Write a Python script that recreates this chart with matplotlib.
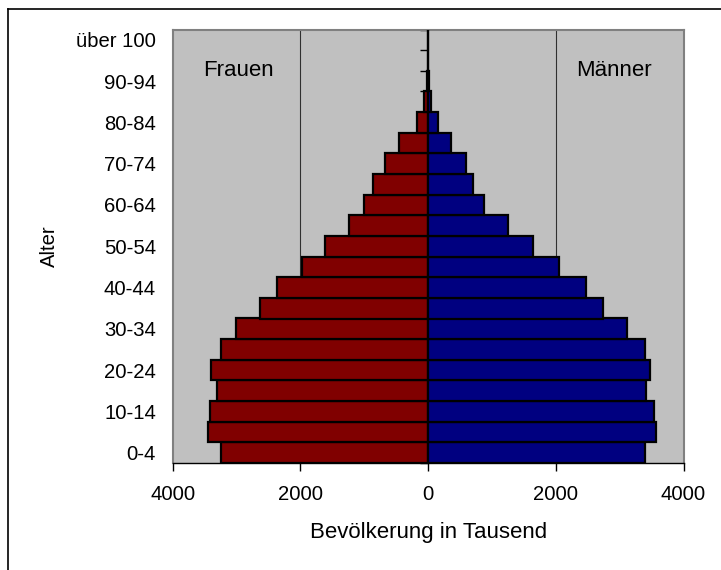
import matplotlib
matplotlib.use("Agg")
import matplotlib.pyplot as plt
from matplotlib.lines import Line2D
from matplotlib.ticker import FuncFormatter
import numpy as np

plt.rcParams['font.family'] = ['Liberation Sans', 'DejaVu Sans']

categories = ["0-4", "5-9", "10-14", "15-19", "20-24", "25-29", "30-34", "35-39",
              "40-44", "45-49", "50-54", "55-59", "60-64", "65-69", "70-74",
              "75-79", "80-84", "85-89", "90-94", "95-99", "über 100"]
frauen = [3250, 3440, 3420, 3305, 3400, 3250, 3012, 2630, 2370, 1977, 1618,
          1243, 1003, 870, 670, 463, 179, 60, 18, 5, 1]
maenner = [3390, 3570, 3535, 3405, 3478, 3395, 3120, 2732, 2472, 2046, 1643,
           1248, 881, 705, 601, 355, 148, 42, 14, 4, 1]
xticks = [-4000, -2000, 0, 2000, 4000]

W, H = 721, 570
fig = plt.figure(figsize=(W / 100, H / 100), dpi=100)
fig.patch.set_facecolor("white")

L, R, T, B = 172.7, 683.5, 29.5, 463.0
ax = fig.add_axes([L / W, 1 - B / H, (R - L) / W, (B - T) / H])
ax.set_facecolor("#C0C0C0")

y = np.arange(len(categories))
ax.barh(y, [-v for v in frauen], height=1.0, color="#800000",
        edgecolor="black", linewidth=1.6, zorder=3)
ax.barh(y, maenner, height=1.0, color="#000080",
        edgecolor="black", linewidth=1.6, zorder=3)

ax.set_xlim(-4000, 4000)
ax.set_ylim(-0.5, len(categories) - 0.5)

# grid
for g in [-2000, 2000]:
    ax.axvline(g, color="#303030", linewidth=0.8, zorder=1)

ax.set_xticks(xticks)
ax.xaxis.set_major_formatter(FuncFormatter(lambda v, p: f"{abs(int(v))}"))
ax.tick_params(axis="x", direction="out", length=6, width=1, color="black",
               labelsize=14.6, pad=10)
ax.set_yticks(y[::2])
ax.set_yticklabels(categories[::2])
ax.tick_params(axis="y", length=0, labelsize=14.6, pad=12)

for s in ["top", "left", "right"]:
    ax.spines[s].set_color("#808080")
    ax.spines[s].set_linewidth(1.5)
ax.spines["bottom"].set_color("black")
ax.spines["bottom"].set_linewidth(1.0)

# vertical axis at x=0 with ticks at category boundaries
sec = ax.secondary_yaxis(0.5)
sec.set_yticks(np.arange(len(categories) + 1) - 0.5)
sec.set_yticklabels([])
sec.tick_params(axis="y", direction="in", length=6, width=1, color="black")
for s in ["left", "right"]:
    sec.spines[s].set_color("black")
    sec.spines[s].set_linewidth(1.2)

ax.set_xlabel("Bevölkerung in Tausend", fontsize=16)
ax.xaxis.set_label_coords(0.5, -0.136)
ax.set_ylabel("Alter", fontsize=14.6)
ax.yaxis.set_label_coords(-0.2225, 0.5)

ax.text(0.1284, 0.9054, "Frauen", transform=ax.transAxes, ha="center",
        va="center", fontsize=16, zorder=5)
ax.text(0.8636, 0.9054, "Männer", transform=ax.transAxes, ha="center",
        va="center", fontsize=16, zorder=5)

# outer chart frame (left and top edges visible)
fig.add_artist(Line2D([8 / W, 8 / W], [0, 1 - 9 / H], transform=fig.transFigure,
                      color="black", linewidth=1.2))
fig.add_artist(Line2D([8 / W, 1], [1 - 9 / H, 1 - 9 / H], transform=fig.transFigure,
                      color="black", linewidth=1.2))

fig.savefig("out.png", dpi=100, facecolor="white")
